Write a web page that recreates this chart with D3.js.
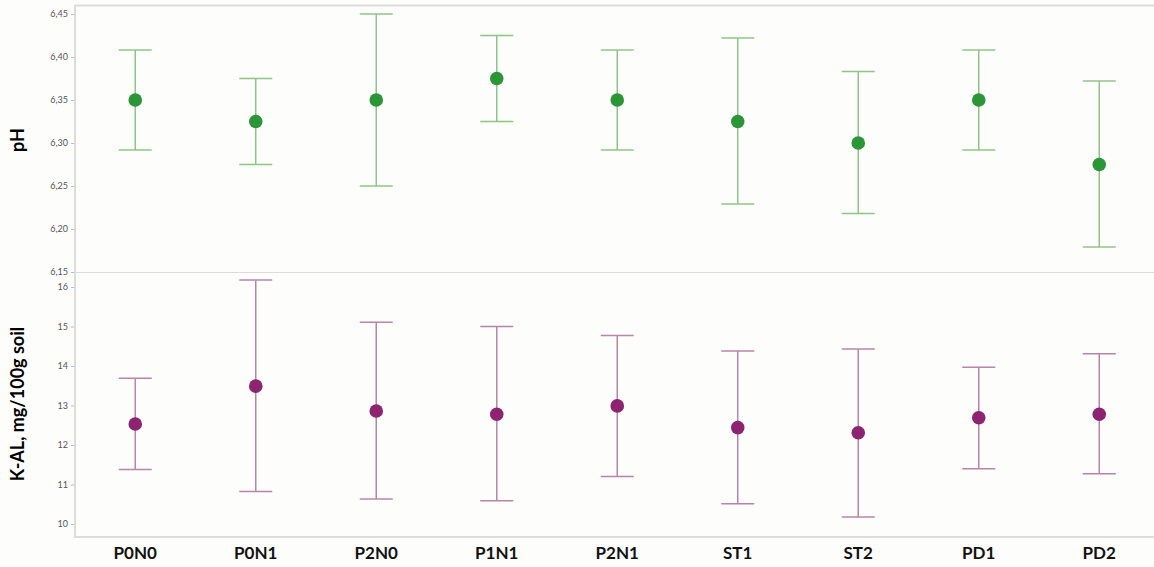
<!DOCTYPE html>
<html>
<head>
<meta charset="utf-8">
<script src="https://cdn.jsdelivr.net/npm/d3@7"></script>
<style>
  body { margin: 0; background: #fdfdfb; }
  svg { display: block; }
</style>
</head>
<body>
<div id="graph"></div>
<script>
// treatments
const treatments = ["P0N0", "P0N1", "P2N0", "P1N1", "P2N1", "ST1", "ST2", "PD1", "PD2"];

// pH: mean and interval
const phMean  = [6.35, 6.325, 6.35, 6.375, 6.35, 6.325, 6.30, 6.35, 6.275];
const phLow   = [6.292, 6.275, 6.25, 6.325, 6.292, 6.229, 6.218, 6.292, 6.179];
const phHigh  = [6.408, 6.375, 6.45, 6.425, 6.408, 6.422, 6.383, 6.408, 6.372];

// K-AL, mg/100g soil
const kMean = [12.53, 13.49, 12.86, 12.78, 12.99, 12.44, 12.31, 12.69, 12.78];
const kLow  = [11.38, 10.82, 10.63, 10.59, 11.20, 10.51, 10.18, 11.40, 11.27];
const kHigh = [13.69, 16.18, 15.11, 15.00, 14.77, 14.38, 14.43, 13.97, 14.31];

const phTicks = [6.15, 6.20, 6.25, 6.30, 6.35, 6.40, 6.45];
const kTicks = [10, 11, 12, 13, 14, 15, 16];

const width = 1154, height = 567;
const left = 75;
const step = 120.5;
const font = "Lato, 'Liberation Sans', sans-serif";

let svg = d3.select("#graph")
    .append("svg")
    .attr("width", width)
    .attr("height", height);

svg.append("rect").attr("width", width).attr("height", height).attr("fill", "#fdfdfb");

let x = d3.scaleBand()
    .domain(treatments)
    .range([left, left + step * treatments.length])
    .padding(0);

let yPh = d3.scaleLinear().domain([6.15, 6.45]).range([272, 14]);
let yK = d3.scaleLinear().domain([10, 16]).range([524, 287]);

let comma = function(fmt) {
    return function(v) { return d3.format(fmt)(v).replace(".", ","); };
};

// frame lines
let frame = svg.append("g").attr("stroke", "#dcdcdc").attr("fill", "none");
frame.append("line").attr("x1", left).attr("x2", width).attr("y1", 5.5).attr("y2", 5.5).attr("stroke-width", 2);
frame.append("line").attr("x1", left).attr("x2", width).attr("y1", 272.5).attr("y2", 272.5).attr("stroke-width", 1);
frame.append("line").attr("x1", left).attr("x2", width).attr("y1", 537).attr("y2", 537).attr("stroke-width", 2);
frame.append("line").attr("x1", left).attr("x2", left).attr("y1", 5).attr("y2", 538).attr("stroke-width", 2);

function drawPanel(y, ticks, fmt, mean, low, high, lineColor, dotColor) {
    let axis = svg.append("g")
        .attr("transform", `translate(${left - 1}, 0)`)
        .call(d3.axisLeft(y).tickValues(ticks).tickFormat(comma(fmt)).tickSize(3).tickPadding(3));
    axis.select(".domain").remove();
    axis.selectAll(".tick line").attr("stroke", "#bbbbbb");
    axis.selectAll("text")
        .attr("fill", "#555")
        .style("font-family", font)
        .style("font-size", "9px");

    let g = svg.append("g");
    let cx = function(i) { return x(treatments[i]) + x.bandwidth() / 2; };
    let idx = d3.range(treatments.length);

    g.selectAll(".whisker").data(idx).join("line")
        .attr("x1", cx).attr("x2", cx)
        .attr("y1", function(i) { return y(high[i]); })
        .attr("y2", function(i) { return y(low[i]); })
        .attr("stroke", lineColor).attr("stroke-width", 1.5);

    [high, low].forEach(function(arr) {
        g.append("g").selectAll("line").data(idx).join("line")
            .attr("x1", function(i) { return cx(i) - 16.5; })
            .attr("x2", function(i) { return cx(i) + 16.5; })
            .attr("y1", function(i) { return y(arr[i]); })
            .attr("y2", function(i) { return y(arr[i]); })
            .attr("stroke", lineColor).attr("stroke-width", 1.5);
    });

    g.selectAll("circle").data(idx).join("circle")
        .attr("cx", cx)
        .attr("cy", function(i) { return y(mean[i]); })
        .attr("r", 6.8)
        .attr("fill", dotColor);
}

drawPanel(yPh, phTicks, ".2f", phMean, phLow, phHigh, "#8fc488", "#2a9638");
drawPanel(yK, kTicks, "d", kMean, kLow, kHigh, "#b984a9", "#8c2471");

// axis titles
svg.append("text")
    .attr("transform", `translate(24, 140) rotate(-90)`)
    .style("text-anchor", "middle")
    .style("font-family", font)
    .style("font-weight", "bold")
    .style("font-size", "18px")
    .text("pH");

svg.append("text")
    .attr("transform", `translate(24, 404) rotate(-90)`)
    .style("text-anchor", "middle")
    .style("font-family", font)
    .style("font-weight", "bold")
    .style("font-size", "18px")
    .text("K-AL, mg/100g soil");

// category labels
svg.append("g").selectAll("text").data(treatments).join("text")
    .attr("x", function(d) { return x(d) + x.bandwidth() / 2; })
    .attr("y", 559)
    .style("text-anchor", "middle")
    .style("font-family", font)
    .style("font-weight", "bold")
    .style("font-size", "17px")
    .attr("fill", "#111")
    .text(function(d) { return d; });
</script>
</body>
</html>
